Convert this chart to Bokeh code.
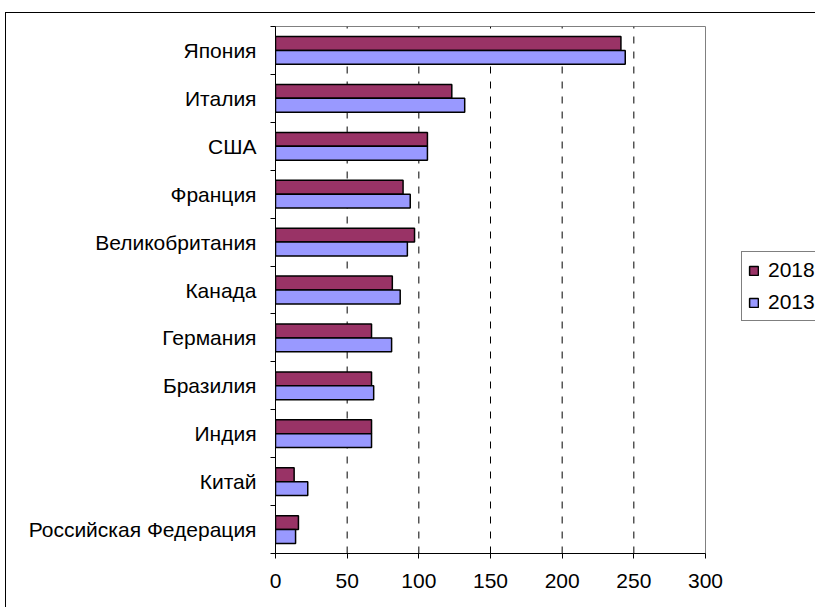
from bokeh.plotting import figure
from bokeh.layouts import row
from bokeh.models import (Range1d, LinearAxis, FixedTicker, Legend, LegendItem,
                          ColumnDataSource)
from bokeh.transform import dodge
from bokeh.embed import file_html
from bokeh.resources import INLINE

countries = ["Япония", "Италия", "США", "Франция", "Великобритания", "Канада",
             "Германия", "Бразилия", "Индия", "Китай", "Российская Федерация"]
values_2018 = [241, 123, 106, 89, 97, 81.5, 67, 67, 67, 13, 16]
values_2013 = [244, 132, 106, 94, 92, 87, 81, 68.5, 67, 22.5, 14]
x_ticks = [0, 50, 100, 150, 200, 250, 300]
series = ["2018", "2013"]

color_2018 = "#993366"
color_2013 = "#9999FF"
font = "Liberation Sans"
font_size = "21px"

n = len(countries)
# first country on top: slot centres counted down from the top edge
slots = [n - i - 0.5 for i in range(n)]
source = ColumnDataSource(dict(country=countries, slot=slots,
                               v2018=values_2018, v2013=values_2013))

p = figure(width=735, height=595, output_backend="svg", toolbar_location=None,
           y_range=Range1d(0, n), x_range=Range1d(0, 300),
           min_border_left=269, min_border_top=13, min_border_right=36,
           min_border_bottom=55, y_axis_type=None, x_axis_type=None)
p.background_fill_color = "white"
p.border_fill_color = "white"
p.outline_line_color = "#808080"
p.outline_line_width = 1

# value axis along the bottom
xaxis = LinearAxis(ticker=FixedTicker(ticks=x_ticks))
xaxis.axis_line_color = "black"
xaxis.major_tick_line_color = "black"
xaxis.major_tick_in = 0
xaxis.major_tick_out = 5
xaxis.minor_tick_line_color = None
xaxis.major_label_text_font = font
xaxis.major_label_text_font_size = font_size
xaxis.major_label_text_color = "black"
xaxis.major_label_standoff = 15
p.add_layout(xaxis, "below")

# tick marks between categories
edge_axis = LinearAxis(ticker=FixedTicker(ticks=list(range(n + 1))))
edge_axis.axis_line_color = "black"
edge_axis.major_tick_line_color = "black"
edge_axis.major_tick_in = 0
edge_axis.major_tick_out = 5
edge_axis.minor_tick_line_color = None
edge_axis.major_label_overrides = {t: "" for t in range(n + 1)}
edge_axis.major_label_standoff = 0

# country names at slot centres
cat_axis = LinearAxis(ticker=FixedTicker(ticks=slots))
cat_axis.major_label_overrides = {s: c for s, c in zip(slots, countries)}
cat_axis.axis_line_color = None
cat_axis.major_tick_line_color = None
cat_axis.minor_tick_line_color = None
cat_axis.major_label_text_font = font
cat_axis.major_label_text_font_size = font_size
cat_axis.major_label_text_color = "black"
cat_axis.major_label_standoff = 8
p.add_layout(edge_axis, "left")
p.add_layout(cat_axis, "left")
p.left = [edge_axis, cat_axis]

p.xgrid.visible = False
p.ygrid.visible = False
for v in x_ticks[1:-1]:
    p.line(x=[v, v], y=[0, n], line_color="black", line_width=1, line_dash="7 8")

bar_style = dict(height=0.29, line_color="black", line_width=1.5)
p.hbar(y=dodge("slot", 0.145), right="v2018", left=0, source=source,
       fill_color=color_2018, **bar_style)
p.hbar(y=dodge("slot", -0.145), right="v2013", left=0, source=source,
       fill_color=color_2013, **bar_style)

# legend panel to the right of the chart; its key bars sit outside its view
lg = figure(width=75, height=595, output_backend="svg", toolbar_location=None,
            x_range=Range1d(-2, -1), y_range=Range1d(0, n),
            min_border=0, x_axis_type=None, y_axis_type=None)
lg.outline_line_color = None
lg.xgrid.visible = False
lg.ygrid.visible = False
lg.background_fill_color = "white"
lg.border_fill_color = "white"
k18 = lg.hbar(y="slot", right="v2018", left=0, source=source,
              fill_color=color_2018, **bar_style)
k13 = lg.hbar(y="slot", right="v2013", left=0, source=source,
              fill_color=color_2013, **bar_style)

legend = Legend(items=[LegendItem(label=series[0], renderers=[k18]),
                       LegendItem(label=series[1], renderers=[k13])],
                location=(0, 232))
legend.label_text_font = font
legend.label_text_font_size = font_size
legend.label_text_color = "black"
legend.glyph_width = 11
legend.glyph_height = 11
legend.label_standoff = 9
legend.label_height = 22
legend.spacing = 8
legend.padding = 6
legend.margin = 0
legend.border_line_color = "black"
legend.border_line_width = 1
legend.background_fill_color = "white"
legend.background_fill_alpha = 1
lg.add_layout(legend, "center")

layout = row(p, lg)
layout.styles = {"margin-left": "5px", "margin-top": "12px",
                 "border-left": "1px solid black", "border-top": "1px solid black"}

open("out.html", "w").write(file_html(layout, INLINE))
